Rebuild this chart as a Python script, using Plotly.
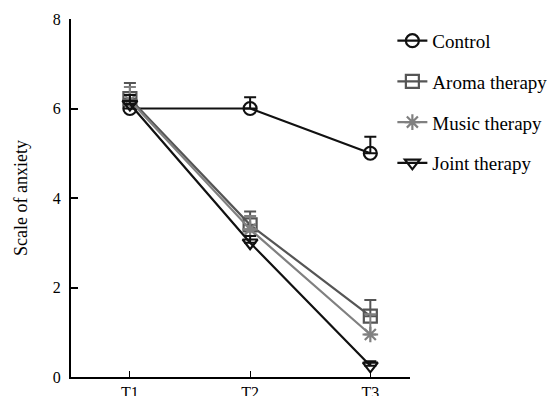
import plotly.graph_objects as go

categories = ["T1", "T2", "T3"]
series_names = ["Control", "Aroma therapy", "Music therapy", "Joint therapy"]
control = [6.0, 6.0, 5.0]
control_err = [0.2, 0.25, 0.37]
aroma = [6.22, 3.4, 1.36]
aroma_err = [0.35, 0.3, 0.36]
music = [6.18, 3.3, 0.95]
music_err = [0.3, 0.3, 0.45]
joint = [6.1, 3.0, 0.25]
joint_err = [0.2, 0.15, 0.1]
y_ticks = [0, 2, 4, 6, 8]

values = [control, aroma, music, joint]
errors = [control_err, aroma_err, music_err, joint_err]
colors = ["#111111", "#555555", "#808080", "#111111"]
symbols = ["circle-open", "square-open", "asterisk-open", "triangle-down-open"]

fig = go.Figure()
for i, name in enumerate(series_names):
    fig.add_trace(go.Scatter(
        x=categories, y=values[i], name=name, mode="lines+markers",
        line=dict(color=colors[i], width=2.2),
        marker=dict(symbol=symbols[i], size=13, color=colors[i],
                    line=dict(color=colors[i], width=2.2)),
        error_y=dict(type="data", symmetric=False, array=errors[i],
                     arrayminus=[0, 0, 0], color=colors[i], thickness=2, width=6),
        legendgroup=name,
    ))

serif = "'Liberation Serif', 'DejaVu Serif', serif"
fig.update_layout(
    width=555, height=396,
    margin=dict(l=63, r=153, t=11, b=27, autoexpand=False),
    paper_bgcolor="white", plot_bgcolor="white",
    font=dict(family=serif, size=16, color="black"),
    showlegend=True,
    legend=dict(x=0.948, y=0.992, xanchor="left", yanchor="top",
                font=dict(family=serif, size=19), tracegroupgap=13,
                bgcolor="rgba(0,0,0,0)"),
    xaxis=dict(type="category", range=[-0.49, 2.33], showline=True, linecolor="black",
               linewidth=1.5, ticks="inside", ticklen=6, tickcolor="black",
               showgrid=False, zeroline=False, tickfont=dict(family=serif, size=16)),
    yaxis=dict(range=[0, 8], tickvals=y_ticks, showline=True, linecolor="black",
               linewidth=2, ticks="inside", ticklen=7, tickcolor="black", tickwidth=2,
               showgrid=False, zeroline=False, tickfont=dict(family=serif, size=16),
               ticklabelstandoff=5,
               title=dict(text="Scale of anxiety", font=dict(family=serif, size=18),
                          standoff=20)),
)

fig.write_html("out.html")
